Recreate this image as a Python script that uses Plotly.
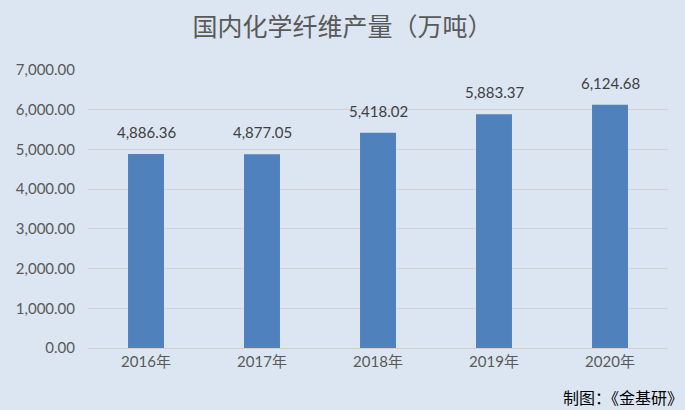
import plotly.graph_objects as go

categories = ["2016年", "2017年", "2018年", "2019年", "2020年"]
values = [4886.36, 4877.05, 5418.02, 5883.37, 6124.68]
y_ticks = [0, 1000, 2000, 3000, 4000, 5000, 6000, 7000]

bg = "#dce6f2"
fig = go.Figure(go.Bar(
    x=categories, y=values,
    marker=dict(color="#4f81bd", line=dict(width=0)),
    hoverinfo="x+y",
))
annotations = [
    dict(x=c, y=v, xref="x", yref="y", text=f"{v:,.2f}", showarrow=False,
         yanchor="bottom", yshift=11,
         font=dict(family="Lato, Noto Sans CJK SC", size=15, color="#404040"))
    for c, v in zip(categories, values)
]
annotations.append(dict(text="制图：《金基研》", x=1, xref="paper", xanchor="right", xshift=17,
                        y=0, yref="paper", yanchor="middle", yshift=-49, showarrow=False,
                        font=dict(family="Noto Sans CJK SC", size=16, color="#000000")))
fig.update_layout(
    width=685, height=410,
    paper_bgcolor=bg, plot_bgcolor=bg,
    margin=dict(l=88, r=17, t=70, b=62),
    bargap=0.69,
    showlegend=False,
    title=dict(text="国内化学纤维产量（万吨）", x=0.5, xanchor="center", y=1 - 27 / 410, yanchor="middle",
               font=dict(family="Noto Sans CJK SC", size=25, color="#595959")),
    xaxis=dict(showgrid=False, showline=True, linecolor="#d0d0d0", linewidth=1, ticks="",
               tickfont=dict(family="Lato, Noto Sans CJK SC", size=15, color="#595959")),
    yaxis=dict(range=[0, 7000], tickvals=y_ticks, tickformat=",.2f", showline=False,
               gridcolor="#d0d0d0", gridwidth=1, zeroline=False, ticks="", ticklabelstandoff=12,
               tickfont=dict(family="Lato", size=15, color="#595959")),
    annotations=annotations,
)
fig.write_html("out.html", config={"displayModeBar": False},
               post_script="document.body.style.margin='0';document.body.style.overflow='hidden';")
